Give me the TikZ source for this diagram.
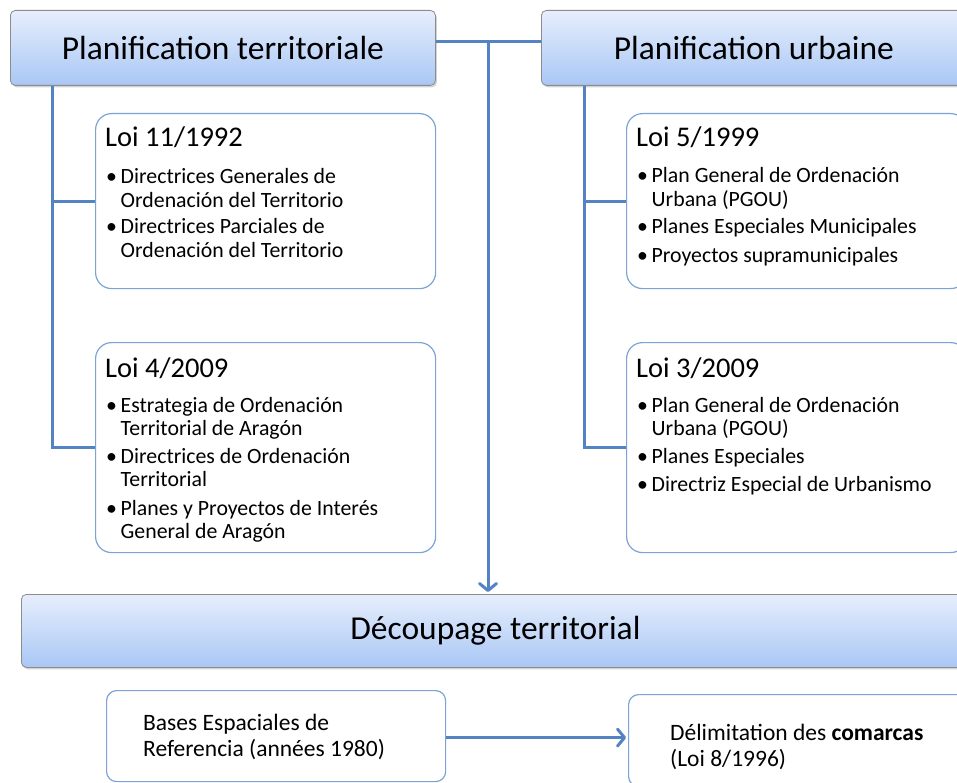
\documentclass[tikz,border=0pt]{standalone}
\usepackage{fontspec}
\setmainfont{Carlito}
\usetikzlibrary{arrows.meta,shadows}
\definecolor{lineblue}{HTML}{5383C2}
\definecolor{boxblue}{HTML}{7BA3D5}
\definecolor{topgrad}{HTML}{E6EEFC}
\definecolor{botgrad}{HTML}{A9C7F5}
\definecolor{tborder}{HTML}{8C8C8C}
\newcommand\bul[1]{\makebox[14.5pt][l]{\textbullet}\parbox[t]{300pt}{#1}}
\tikzset{
  titlebox/.style={draw=tborder, line width=0.8pt, rounded corners=5pt,
    top color=topgrad, bottom color=botgrad,
    drop shadow={shadow xshift=1.5pt, shadow yshift=-2pt, opacity=0.35},
    anchor=north west, inner sep=0pt, font=\fontsize{33.5}{38}\selectfont},
  listbox/.style={draw=boxblue, line width=1.2pt, rounded corners=16pt,
    fill=white, anchor=north west, inner sep=0pt},
  loinode/.style={anchor=base west, inner sep=0pt, font=\fontsize{28.5}{32}\selectfont},
  itemnode/.style={anchor=base west, inner sep=0pt, font=\fontsize{21.8}{23.5}\selectfont},
  bottomtext/.style={anchor=base west, inner sep=0pt,
    font=\fontsize{23.5}{26.5}\selectfont},
  conn/.style={draw=lineblue, line width=3pt},
  arr/.style={conn, -{Straight Barb[length=7pt,width=17pt,round]}},
}
\begin{document}
\begin{tikzpicture}[x=1pt,y=-1pt]
\useasboundingbox (0,0) rectangle (957,783);
\clip (0,0) rectangle (957,783);
% boxes
\node[titlebox, minimum width=425pt, minimum height=75pt] (PT) at (10,10) {Planification territoriale};
\node[titlebox, minimum width=425pt, minimum height=75pt] (PU) at (541,10) {Planification urbaine};
\node[titlebox, minimum width=948pt, minimum height=73pt] (DT) at (21,594) {Découpage territorial};
\node[listbox, minimum width=340pt, minimum height=175pt] (L1) at (95,113) {};
\node[listbox, minimum width=340pt, minimum height=210pt] (L2) at (95,342) {};
\node[listbox, minimum width=340pt, minimum height=175pt] (R1) at (626,113) {};
\node[listbox, minimum width=340pt, minimum height=210pt] (R2) at (626,342) {};
\node[listbox, minimum width=339pt, minimum height=91pt, rounded corners=10pt] (B1) at (106,690) {};
\node[listbox, minimum width=339pt, minimum height=92pt, rounded corners=10pt] (B2) at (628,694) {};
% contents: box L1
\node[loinode] (L1h) at (105,147) {Loi 11/1992};
\node[itemnode] (L1a) at (106,184) {\bul{Directrices Generales de\\Ordenación del Territorio}};
\node[itemnode] (L1b) at (106,234) {\bul{Directrices Parciales de\\Ordenación del Territorio}};
% box L2
\node[loinode] (L2h) at (105,377) {Loi 4/2009};
\node[itemnode] (L2a) at (106,412) {\bul{Estrategia de Ordenación\\Territorial de Aragón}};
\node[itemnode] (L2b) at (106,463) {\bul{Directrices de Ordenación\\Territorial}};
\node[itemnode] (L2c) at (106,515) {\bul{Planes y Proyectos de Interés\\General de Aragón}};
% box R1
\node[loinode] (R1h) at (636,147) {Loi 5/1999};
\node[itemnode] (R1a) at (637,183) {\bul{Plan General de Ordenación\\Urbana (PGOU)}};
\node[itemnode] (R1b) at (637,234) {\bul{Planes Especiales Municipales}};
\node[itemnode] (R1c) at (637,262) {\bul{Proyectos supramunicipales}};
% box R2
\node[loinode] (R2h) at (636,377) {Loi 3/2009};
\node[itemnode] (R2a) at (637,412) {\bul{Plan General de Ordenación\\Urbana (PGOU)}};
\node[itemnode] (R2b) at (637,463) {\bul{Planes Especiales}};
\node[itemnode] (R2c) at (637,491) {\bul{Directriz Especial de Urbanismo}};
% bottom boxes
\node[bottomtext] (B1t) at (143,730) {\parbox[t]{300pt}{Bases Espaciales de\\Referencia (années 1980)}};
\node[bottomtext] (B2t) at (670,740) {\parbox[t]{300pt}{Délimitation des \textbf{comarcas}\\(Loi 8/1996)}};
% connectors
\coordinate (cy) at (0,42);
\coordinate (hj) at (488,42);
\draw[conn] (PT.east |- cy) -- (PU.west |- cy);
\draw[arr] (hj) -- ([yshift=2pt]hj |- DT.north);
\coordinate (lt) at ([xshift=42pt]PT.south west);
\draw[conn] (lt) |- (L2.west);
\draw[conn] (lt |- L1.west) -- (L1.west);
\coordinate (rt) at ([xshift=43pt]PU.south west);
\draw[conn] (rt) |- (R2.west);
\draw[conn] (rt |- R1.west) -- (R1.west);
\draw[arr] ([yshift=-1.5pt]B1.east) -- ([yshift=-1.5pt,xshift=-2pt]B1.east -| B2.west);
\end{tikzpicture}
\end{document}
